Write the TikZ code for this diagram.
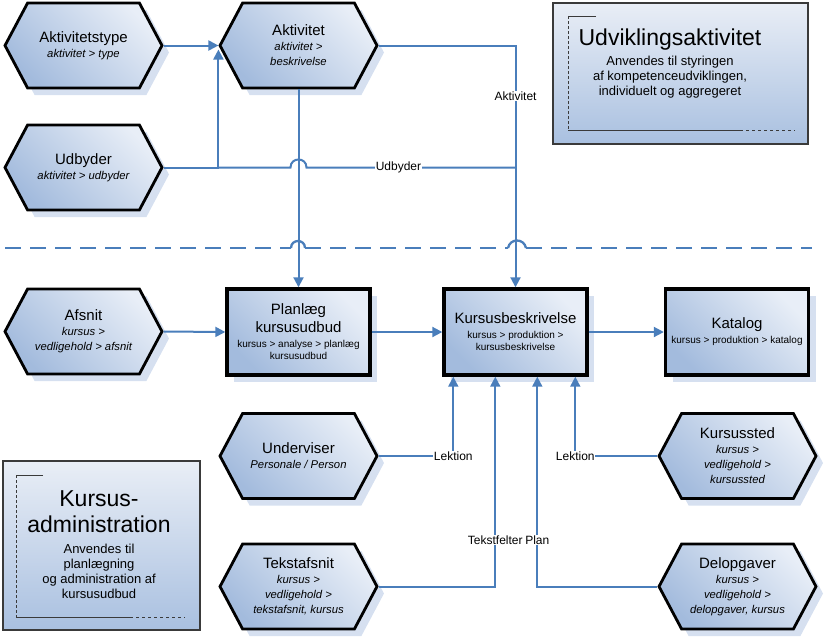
\documentclass[tikz,border=0pt]{standalone}
\usepackage{fontspec}
\setmainfont{Liberation Sans}
\usetikzlibrary{shapes.symbols,shadows,arrows.meta,calc}

\definecolor{linkblue}{HTML}{4A7EBB}
\definecolor{hexlite}{HTML}{E8EEF7}
\definecolor{hexdark}{HTML}{A3BBDD}
\definecolor{shadeblue}{HTML}{D6E0F0}
\definecolor{notelite}{HTML}{E9EEF6}
\definecolor{notedark}{HTML}{A9C0E0}
\definecolor{rimgray}{HTML}{3A3A3A}

\newcommand\hexsub[1]{{\fontsize{11.3}{15}\selectfont\itshape #1}}
\newcommand\procsub[1]{{\fontsize{10}{12}\selectfont #1}}
\newcommand\notebody[1]{{\fontsize{13}{15}\selectfont #1}}
\newcommand\notefont{\fontsize{23}{15}\selectfont\lineskiplimit=-100pt\relax}

\tikzset{
  hexa/.style={signal, signal to=east and west, signal pointer angle=124,
    minimum width=157pt, minimum height=85pt, inner sep=0pt,
    draw=black, line width=2.8pt,
    top color=hexlite, bottom color=hexdark, shading angle=-45,
    drop shadow={shadow xshift=7pt, shadow yshift=-7pt, fill=shadeblue, opacity=1},
    align=center, font=\fontsize{15}{15}\selectfont},
  proc/.style={rectangle, minimum width=143pt, minimum height=86pt, inner sep=0pt,
    draw=black, line width=3.4pt,
    top color=hexlite, bottom color=hexdark, shading angle=-45,
    drop shadow={shadow xshift=7pt, shadow yshift=-7pt, fill=shadeblue, opacity=1},
    align=center, font=\fontsize{15}{18}\selectfont},
  notebox/.style={rectangle, draw=rimgray, line width=1.2pt, inner sep=0pt,
    top color=notelite, bottom color=notedark},
  notetext/.style={align=center, inner sep=0pt, font=\notefont},
  bracket/.style={draw=rimgray, line width=0.8pt},
  conn/.style={draw=linkblue, line width=2pt},
  arr/.style={conn, -{Triangle[length=10pt,width=10pt]}},
  lbl/.style={fill=white, inner sep=0.6pt, font=\fontsize{12}{12}\selectfont},
  divider/.style={draw=linkblue, line width=2.3pt, dash pattern=on 16pt off 9pt},
  dividerarc/.style={draw=linkblue, line width=2.3pt},
}

\begin{document}
\begin{tikzpicture}[x=1pt,y=-1pt]
\useasboundingbox (0,0) rectangle (824,638);

% notes
\node[notebox, minimum width=255pt, minimum height=141pt] (udvbox) at (680.5,73.5) {};
\draw[bracket] (596,16) -- (568,16);
\draw[bracket, densely dashed] (568,16) -- (568,130);
\draw[bracket] (568,130) -- (740,130);
\draw[bracket, dashed] (740,130) -- (795,130);
\node[notetext] (udvtxt) at (670,64) {Udviklingsaktivitet\\[5pt]
  \notebody{Anvendes til styringen}\\
  \notebody{af kompetenceudviklingen,}\\
  \notebody{individuelt og aggregeret}};

\node[notebox, minimum width=197pt, minimum height=169pt] (admbox) at (101.5,545.5) {};
\draw[bracket] (43,475) -- (16,475);
\draw[bracket, densely dashed] (16,475) -- (16,617);
\draw[bracket] (16,617) -- (130,617);
\draw[bracket, dashed] (130,617) -- (185,617);
\node[notetext] (admtxt) at (99,545) {Kursus-\\[11pt]
  administration\\[6pt]
  \notebody{Anvendes til}\\
  \notebody{planlægning}\\
  \notebody{og administration af}\\
  \notebody{kursusudbud}};

% upper part
\node[hexa] (atype) at (83.5,45.5) {Aktivitetstype\\\hexsub{aktivitet > type}};
\node[hexa] (akt) at (298.5,45.5) {Aktivitet\\\hexsub{aktivitet >}\\\hexsub{beskrivelse}};
\node[hexa] (udb) at (83.5,167.5) {Udbyder\\\hexsub{aktivitet > udbyder}};

% lower part
\node[hexa] (afs) at (83.5,331.5) {Afsnit\\\hexsub{kursus >}\\\hexsub{vedligehold > afsnit}};
\node[proc] (plan) at (298.5,332) {Planlæg\\kursusudbud\\[-3pt]
  \procsub{kursus > analyse > planlæg}\\[-6pt]\procsub{kursusudbud}};
\node[proc] (kb) at (515.5,332) {Kursusbeskrivelse\\[-3pt]
  \procsub{kursus > produktion >}\\[-6pt]\procsub{kursusbeskrivelse}};
\node[proc] (kat) at (737,332) {Katalog\\[-3pt]\procsub{kursus > produktion > katalog}};
\node[hexa] (und) at (298.5,456) {Underviser\\\hexsub{Personale / Person}};
\node[hexa] (kst) at (737.5,456) {Kursussted\\\hexsub{kursus >}\\\hexsub{vedligehold >}\\\hexsub{kursussted}};
\node[hexa] (tek) at (298.5,586.5) {Tekstafsnit\\\hexsub{kursus >}\\\hexsub{vedligehold >}\\\hexsub{tekstafsnit, kursus}};
\node[hexa] (del) at (737.5,586.5) {Delopgaver\\\hexsub{kursus >}\\\hexsub{vedligehold >}\\\hexsub{delopgaver, kursus}};

\coordinate (udbjoin) at (akt.west |- udb.east);
\coordinate (aktbend) at (kb.north |- akt.east);
\coordinate (kbin1) at ($(kb.south west)+(11,0)$);
\coordinate (kbin2) at ($(kb.south west)+(53,0)$);
\coordinate (kbin3) at ($(kb.south west)+(95,0)$);
\coordinate (kbin4) at ($(kb.south west)+(133,0)$);

% connectors
\draw[arr] (atype.east) -- (akt.west);
\draw[arr, shorten >=4pt] (udb.east) -- (udbjoin) -- (akt.west);
\draw[conn] (udbjoin) -- (290.5,167.5) .. controls (290.5,156.8) and (306.5,156.8) .. (306.5,167.5)
  -- (aktbend |- udbjoin) node[lbl, pos=0.44] {Udbyder};
\draw[arr] (akt.east) -- (aktbend) -- (kb.north) node[lbl, pos=0.21] {Aktivitet};
\draw[arr] (akt.south) -- (plan.north);

\draw[divider] (5,248) -- (291,248) (305,248) -- (508,248) (526,248) -- (812,248);
\draw[dividerarc] (291,248) .. controls (291,238.7) and (305,238.7) .. (305,248);
\draw[dividerarc] (508,248) .. controls (510,238) and (524,238) .. (526,248);

\draw[arr] (afs.east) -- (plan.west);
\draw[arr] (plan.east) -- (kb.west);
\draw[arr] (kb.east) -- (kat.west);
\draw[arr] (und.east) -| (kbin1) node[lbl, pos=0.5] {Lektion};
\draw[arr] (kst.west) -| (kbin4) node[lbl, pos=0.5] {Lektion};
\draw[arr] (tek.east) -| (kbin2) node[lbl, pos=0.61] {Tekstfelter};
\draw[arr] (del.west) -| (kbin3) node[lbl, pos=0.61] {Plan};
\end{tikzpicture}
\end{document}
